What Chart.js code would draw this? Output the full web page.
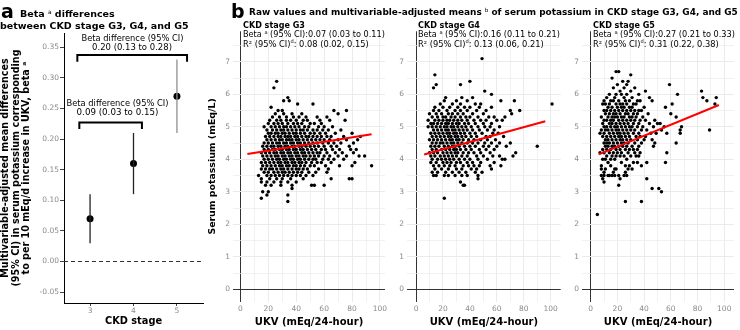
<!DOCTYPE html>
<html>
<head>
<meta charset="utf-8">
<script src="https://cdn.jsdelivr.net/npm/chart.js@4.4.1/dist/chart.umd.min.js"></script>
<style>
  body { margin: 0; background: #fff; }
  #wrap { position: relative; width: 740px; height: 330px; overflow: hidden; }
  canvas { position: absolute; top: 0; }
</style>
</head>
<body>
<div id="wrap">
  <canvas id="panelA" width="215" height="330" style="left:0px"></canvas>
  <canvas id="g3" width="190" height="330" style="left:200px"></canvas>
  <canvas id="g4" width="190" height="330" style="left:375px"></canvas>
  <canvas id="g5" width="190" height="330" style="left:550px"></canvas>
  <canvas id="labels" width="740" height="330" style="left:0px"></canvas>
</div>

<script>
// panel a: beta per 10 mEq/d UKV by CKD stage
const stages = [3, 4, 5];
const betaMean = [0.07, 0.16, 0.27];
const betaLow = [0.03, 0.11, 0.21];
const betaHigh = [0.11, 0.21, 0.33];
const betaTicks = [-0.05, 0, 0.05, 0.1, 0.15, 0.2, 0.25, 0.3, 0.35];

// panel b: raw serum potassium (row value) vs UKV values on that row
const g3Rows = [
  [6.4, [26]], [6.2, [24]], [5.9, [34]], [5.8, [31, 35]], [5.7, [41, 52]], [5.6, [22]],
  [5.5, [27, 30, 67, 76]],
  [5.4, [25, 31, 37, 44, 70]],
  [5.3, [23, 28, 33, 38, 42, 47, 55, 62]],
  [5.2, [21, 26, 29, 33, 36, 40, 45, 48, 57, 64, 75]],
  [5.1, [20, 24, 27, 30, 34, 38, 41, 44, 50, 53, 58]],
  [5.0, [17, 22, 25, 28, 31, 33, 36, 39, 42, 46, 49, 56, 60, 66]],
  [4.9, [19, 23, 26, 29, 31, 34, 37, 40, 43, 45, 48, 52, 55, 59, 63, 72]],
  [4.8, [20, 22, 25, 27, 30, 32, 35, 38, 40, 43, 46, 50, 53, 57, 61, 68, 80]],
  [4.7, [18, 21, 24, 27, 29, 32, 34, 36, 39, 41, 44, 47, 49, 52, 55, 58, 62, 65, 74, 86]],
  [4.6, [19, 22, 25, 28, 30, 33, 35, 37, 40, 42, 45, 48, 51, 54, 57, 60, 64, 70, 76, 84]],
  [4.5, [17, 20, 23, 26, 28, 31, 33, 36, 38, 41, 43, 46, 49, 52, 55, 59, 63, 67, 72, 81]],
  [4.4, [16, 19, 22, 24, 27, 29, 32, 34, 37, 39, 42, 44, 47, 50, 53, 56, 60, 65, 69, 78]],
  [4.3, [17, 20, 23, 25, 28, 30, 33, 35, 38, 40, 43, 45, 48, 51, 54, 58, 61, 66, 71, 79, 83]],
  [4.2, [15, 18, 21, 24, 26, 29, 31, 34, 36, 39, 41, 44, 46, 49, 52, 55, 57, 62, 68, 73, 81]],
  [4.1, [16, 19, 22, 25, 27, 30, 32, 35, 37, 40, 42, 45, 47, 50, 53, 56, 60, 64, 70, 76, 85, 89]],
  [4.0, [17, 20, 23, 26, 28, 31, 33, 36, 38, 41, 43, 46, 49, 52, 54, 59, 63, 67, 74]],
  [3.9, [15, 18, 21, 24, 27, 29, 32, 34, 37, 39, 42, 44, 47, 51, 55, 58, 65, 82]],
  [3.8, [16, 19, 22, 25, 28, 30, 33, 35, 38, 40, 43, 46, 50, 53, 61, 71, 80, 94]],
  [3.7, [15, 18, 21, 23, 26, 29, 31, 34, 37, 40, 42, 45, 48, 56, 63]],
  [3.6, [17, 20, 24, 27, 30, 32, 35, 38, 41, 44, 49, 54, 62]],
  [3.5, [13, 19, 22, 25, 28, 31, 34, 37, 40, 43, 47, 52]],
  [3.4, [15, 21, 26, 30, 36, 45, 65, 78, 80]],
  [3.3, [15, 19, 24, 29, 34, 40]],
  [3.2, [18, 22, 29, 37, 51, 53, 60]],
  [3.1, [37]], [3.0, [16, 20]], [2.9, [19, 34]], [2.8, [15]], [2.7, [34]]
];
const g4Rows = [
  [7.1, [49]], [6.6, [14]], [6.4, [40]], [6.3, [15, 33]], [6.2, [13]], [6.1, [51]], [6.0, [56]],
  [5.9, [22, 34, 42]],
  [5.8, [21, 30, 38, 63, 73]],
  [5.7, [18, 27, 33, 44, 48, 101]],
  [5.6, [14, 20, 25, 31, 36, 40, 47, 56]],
  [5.5, [13, 17, 23, 29, 33, 38, 45, 52, 70, 77]],
  [5.4, [10, 15, 19, 24, 27, 31, 35, 42, 50, 71]],
  [5.3, [12, 16, 20, 22, 26, 29, 33, 37, 40, 46, 54, 58, 66]],
  [5.2, [9, 14, 17, 20, 23, 25, 28, 31, 34, 38, 43, 48, 52, 60, 64]],
  [5.1, [11, 13, 16, 19, 22, 24, 27, 30, 32, 36, 39, 44, 50, 56]],
  [5.0, [9, 12, 15, 18, 21, 23, 26, 28, 31, 34, 37, 41, 46, 51, 55, 62]],
  [4.9, [13, 16, 19, 22, 24, 27, 29, 32, 35, 38, 42, 47, 53, 58]],
  [4.8, [11, 14, 17, 20, 23, 25, 28, 30, 33, 36, 40, 44, 49, 57, 61]],
  [4.7, [12, 15, 18, 21, 24, 26, 29, 31, 34, 37, 41, 45, 52, 55, 65]],
  [4.6, [10, 13, 16, 19, 22, 25, 27, 30, 32, 35, 39, 43, 48, 53, 59]],
  [4.5, [12, 15, 18, 20, 23, 26, 28, 31, 34, 38, 42, 46, 51, 56, 62, 70]],
  [4.4, [11, 14, 17, 21, 24, 27, 29, 32, 36, 40, 44, 50, 54, 60, 67, 90]],
  [4.3, [12, 15, 19, 22, 25, 28, 30, 33, 37, 41, 47, 52, 58]],
  [4.2, [10, 13, 16, 20, 23, 26, 29, 31, 35, 39, 43, 48, 55, 74]],
  [4.1, [11, 14, 18, 21, 24, 27, 30, 34, 38, 45, 50, 57, 62, 72]],
  [4.0, [12, 16, 19, 22, 25, 28, 32, 36, 40, 46, 53, 64, 66]],
  [3.9, [11, 15, 20, 23, 26, 30, 33, 38, 42, 48, 58]],
  [3.8, [13, 17, 21, 25, 29, 35, 39, 43, 47, 55, 63]],
  [3.7, [14, 19, 24, 30, 34, 41, 45, 56]],
  [3.6, [12, 16, 22, 27, 32, 37, 44, 49]],
  [3.5, [13, 15, 21, 24, 29, 34, 38, 46]],
  [3.4, [46]], [3.3, [33]], [3.2, [35, 36]], [2.8, [21]]
];
const g5Rows = [
  [6.7, [19, 21]], [6.6, [30]], [6.5, [16]], [6.4, [24, 28]], [6.3, [20, 27, 59]],
  [6.2, [17, 25, 33]],
  [6.1, [22, 30, 41, 83]],
  [6.0, [14, 19, 23, 27, 36, 65]],
  [5.9, [12, 18, 25, 31, 44, 84, 94]],
  [5.8, [10, 15, 17, 21, 26, 29, 35, 37, 46, 87]],
  [5.7, [9, 11, 14, 19, 22, 24, 27, 32, 34, 61, 93]],
  [5.6, [13, 16, 20, 23, 25, 29, 31, 40, 56]],
  [5.5, [10, 12, 15, 18, 21, 24, 27, 30, 33, 36, 38]],
  [5.4, [11, 14, 17, 19, 22, 26, 28, 32, 35, 43, 60]],
  [5.3, [8, 13, 16, 18, 20, 23, 25, 29, 31, 34, 39, 64]],
  [5.2, [10, 12, 15, 17, 21, 24, 27, 30, 33, 37, 41, 48]],
  [5.1, [9, 14, 16, 19, 22, 25, 28, 32, 36, 44, 50, 52]],
  [5.0, [10, 12, 15, 18, 20, 23, 26, 29, 31, 35, 39, 47, 55, 68]],
  [4.9, [8, 11, 13, 16, 19, 21, 24, 27, 30, 33, 38, 42, 53, 67, 89]],
  [4.8, [7, 10, 14, 17, 20, 22, 25, 28, 32, 36, 45, 49, 57, 67]],
  [4.7, [9, 12, 15, 18, 21, 23, 26, 29, 34, 37, 41]],
  [4.6, [11, 13, 16, 19, 22, 24, 27, 30, 35, 40, 46]],
  [4.5, [10, 12, 14, 17, 20, 23, 25, 28, 33, 38, 48, 64]],
  [4.4, [11, 13, 16, 18, 21, 24, 27, 31, 36, 47]],
  [4.3, [9, 12, 15, 19, 22, 26, 29, 32, 35]],
  [4.2, [7, 10, 14, 17, 20, 23, 28, 33, 37, 57]],
  [4.1, [12, 16, 19, 22, 25, 30, 34, 36]],
  [4.0, [9, 11, 15, 18, 27]],
  [3.9, [13, 23, 32, 35, 42, 56]],
  [3.8, [8, 15, 26, 29, 38]],
  [3.7, [8, 11, 18, 19, 28, 31]],
  [3.6, [10, 17, 26]],
  [3.5, [8, 10, 13, 14, 16, 18, 21, 25, 27]],
  [3.4, [9, 22, 42]], [3.3, [10]], [3.2, [21]], [3.1, [46, 51]], [3.0, [53]],
  [2.7, [26, 38]], [2.3, [5]]
];
// adjusted-mean lines, [UKV, potassium] at both ends
const g3Fit = [[5, 4.16], [94, 4.77]];
const g4Fit = [[6, 4.15], [96, 5.17]];
const g5Fit = [[6, 4.15], [96, 5.67]];

const ukvGrid = [0, 10, 20, 30, 40, 50, 60, 70, 80, 90, 100];
const kGrid = [0, 0.5, 1, 1.5, 2, 2.5, 3, 3.5, 4, 4.5, 5, 5.5, 6, 6.5, 7, 7.5];

const FONT = '"DejaVu Sans", sans-serif';
Chart.defaults.font.family = FONT;
const tickGray = '#8a8a8a';

const toPoints = (rows) => rows.flatMap(([k, xs]) => xs.map((x) => ({ x: x, y: k })));

// ---- panel a ----
const aSets = [];
aSets.push({
  type: 'line', data: [{ x: 2.4, y: 0 }, { x: 5.6, y: 0 }],
  borderColor: '#333', borderWidth: 1, borderDash: [4, 3], pointRadius: 0
});
stages.forEach((s, i) => {
  aSets.push({
    type: 'line', data: [{ x: s, y: betaLow[i] }, { x: s, y: betaHigh[i] }],
    borderColor: i === 2 ? '#8f8f8f' : '#222', borderWidth: 1.3, pointRadius: 0
  });
});
const brackets = [
  [[2.753, 0.2165], [2.753, 0.227], [4.194, 0.227], [4.194, 0.2165]],
  [[2.707, 0.3265], [2.707, 0.3374], [5.233, 0.3374], [5.233, 0.3265]]
];
brackets.forEach((b) => {
  aSets.push({
    type: 'line', data: b.map(([x, y]) => ({ x: x, y: y })),
    borderColor: '#000', borderWidth: 2, pointRadius: 0, tension: 0,
    borderJoinStyle: 'miter', borderCapStyle: 'butt'
  });
});
aSets.push({
  type: 'scatter', data: stages.map((s, i) => ({ x: s, y: betaMean[i] })),
  pointRadius: 3.5, pointBackgroundColor: '#000', pointBorderWidth: 0
});

new Chart(document.getElementById('panelA'), {
  type: 'scatter',
  data: { datasets: aSets },
  options: {
    responsive: false, animation: false, events: [],
    layout: { padding: { top: 33, right: 12, left: 0, bottom: 0 } },
    plugins: { legend: { display: false }, tooltip: { enabled: false } },
    scales: {
      x: {
        type: 'linear', min: 2.4, max: 5.6,
        afterBuildTicks: (s) => { s.ticks = stages.map((v) => ({ value: v })); },
        afterFit: (s) => { s.height = 27; },
        grid: { drawOnChartArea: false, drawTicks: true, tickLength: 3, color: '#444' },
        border: { display: true, color: '#000', width: 1 },
        ticks: { color: tickGray, font: { size: 7.5 }, padding: 1, maxRotation: 0 },
        title: { display: true, text: 'CKD stage', color: '#000', font: { size: 9.8, weight: 'bold' }, padding: { top: 0, bottom: 3 } }
      },
      y: {
        type: 'linear', min: -0.0678, max: 0.3734,
        afterBuildTicks: (s) => { s.ticks = betaTicks.map((v) => ({ value: v })); },
        afterFit: (s) => { s.width = 64; },
        grid: { drawOnChartArea: false, drawTicks: true, tickLength: 4, color: '#444' },
        border: { display: true, color: '#000', width: 1 },
        ticks: { color: tickGray, font: { size: 7.5 }, padding: 1, callback: (v) => v.toFixed(2) },
        title: {
          display: true, color: '#000',
          text: ['Multivariable-adjusted mean differences', '(95% CI) in serum potassium corresponding', 'to per 10 mEq/d increase in UKV, beta \u1d43'],
          font: { size: 9.6, weight: 'bold', lineHeight: 1.08 }, padding: { top: 0.8, bottom: 0 }
        }
      }
    }
  }
});

// ---- panel b ----
function scatterPanel(id, rows, fit, xMin, xMax, yWidth, padRight, yTitle) {
  new Chart(document.getElementById(id), {
    type: 'scatter',
    data: {
      datasets: [
        {
          type: 'line', data: fit.map(([x, y]) => ({ x: x, y: y })),
          borderColor: '#ff0000', borderWidth: 2, pointRadius: 0, order: 0
        },
        {
          data: toPoints(rows), pointRadius: 1.7, pointBackgroundColor: '#000',
          pointBorderWidth: 0, order: 1
        }
      ]
    },
    options: {
      responsive: false, animation: false, events: [],
      layout: { padding: { top: 31.3, right: padRight, left: 0, bottom: 0 } },
      plugins: { legend: { display: false }, tooltip: { enabled: false } },
      scales: {
        x: {
          type: 'linear', min: xMin, max: xMax,
          afterBuildTicks: (s) => { s.ticks = ukvGrid.map((v) => ({ value: v })); },
          afterFit: (s) => { s.height = 28.4; },
          grid: {
            drawTicks: false,
            color: (c) => (c.tick && c.tick.value === 0 ? '#333' : '#ebebeb'),
            lineWidth: (c) => (c.tick && c.tick.value % 20 === 0 ? 1 : 0.7)
          },
          border: { display: false },
          ticks: { color: tickGray, font: { size: 7.5 }, padding: 2.5, maxRotation: 0, autoSkip: false,
                   callback: (v) => (v % 20 === 0 ? v : '') },
          title: { display: true, text: 'UKV (mEq/24-hour)', color: '#000', font: { size: 10, weight: 'bold' }, padding: { top: 0, bottom: 2 } }
        },
        y: {
          type: 'linear', min: -0.38, max: 7.94,
          afterBuildTicks: (s) => { s.ticks = kGrid.map((v) => ({ value: v })); },
          afterFit: (s) => { s.width = yWidth; },
          grid: {
            drawTicks: false,
            color: (c) => (c.tick && c.tick.value === 0 ? '#333' : '#ebebeb'),
            lineWidth: (c) => (c.tick && Number.isInteger(c.tick.value) ? 1 : 0.7)
          },
          border: { display: false },
          ticks: { color: tickGray, font: { size: 7.5 }, padding: 3, autoSkip: false,
                   callback: (v) => (Number.isInteger(v) ? v : '') },
          title: {
            display: !!yTitle, text: yTitle || '', color: '#000',
            font: { size: 9.4, weight: 'bold' }, padding: { top: 7.4, bottom: 0 }
          }
        }
      }
    }
  });
}

scatterPanel('g3', g3Rows, g3Fit, -5.3, 103.6, 33, 5, 'Serum potassium (mEq/L)');
scatterPanel('g4', g4Rows, g4Fit, -6.7, 107.4, 32, 4.3, null);
scatterPanel('g5', g5Rows, g5Fit, -6.5, 107.3, 32, 6, null);

// ---- titles and annotations (x, baseline, width the line should take) ----
const textLines = [
  { runs: [['a']], x: 1, y: 18.3, size: 19, bold: true },
  { runs: [['Beta '], ['a', 1], [' differences']], x: 20, y: 17.3, size: 9.5, bold: true },
  { runs: [['between CKD stage G3, G4, and G5']], x: 0, y: 29.3, size: 9.5, bold: true },
  { runs: [['Beta difference (95% CI)']], x: 132.5, y: 40.7, w: 102, center: true },
  { runs: [['0.20 (0.13 to 0.28)']], x: 132, y: 50, w: 80, center: true },
  { runs: [['Beta difference (95% CI)']], x: 117.5, y: 106, w: 102, center: true },
  { runs: [['0.09 (0.03 to 0.15)']], x: 117.5, y: 115, w: 82, center: true },
  { runs: [['b']], x: 231, y: 18.3, size: 19, bold: true },
  { runs: [['Raw values and multivariable-adjusted means '], ['b', 1], [' of serum potassium in CKD stage G3, G4, and G5']], x: 249, y: 15.3, w: 489, bold: true }
];
[['G3', 243, '0.07 (0.03 to 0.11)', '0.08 (0.02, 0.15)'],
 ['G4', 418, '0.16 (0.11 to 0.21)', '0.13 (0.06, 0.21)'],
 ['G5', 593, '0.27 (0.21 to 0.33)', '0.31 (0.22, 0.38)']].forEach(([g, x, beta, r2]) => {
  textLines.push({ runs: [['CKD stage ' + g]], x: x, y: 27.8, w: 62, bold: true });
  textLines.push({ runs: [['Beta '], ['a', 1], [' (95% CI):' + beta]], x: x, y: 37.3, w: 142 });
  textLines.push({ runs: [['R² (95% CI)'], ['d', 1], [': ' + r2]], x: x, y: 46.5, w: 126 });
});

const lctx = document.getElementById('labels').getContext('2d');
function runFont(size, bold, sup) {
  return (bold && !sup ? 'bold ' : '') + (sup ? size * 0.62 : size) + 'px ' + FONT;
}
function runsWidth(runs, size, bold) {
  let w = 0;
  runs.forEach(([t, sup]) => { lctx.font = runFont(size, bold, sup); w += lctx.measureText(t).width; });
  return w;
}
textLines.forEach((line) => {
  let size = line.size || 10;
  if (line.w) size = size * line.w / runsWidth(line.runs, size, line.bold);
  let x = line.x;
  if (line.center) x -= runsWidth(line.runs, size, line.bold) / 2;
  lctx.fillStyle = '#000';
  lctx.textBaseline = 'alphabetic';
  line.runs.forEach(([t, sup]) => {
    lctx.font = runFont(size, line.bold, sup);
    lctx.fillText(t, x, sup ? line.y - size * 0.4 : line.y);
    x += lctx.measureText(t).width;
  });
});
</script>
</body>
</html>
